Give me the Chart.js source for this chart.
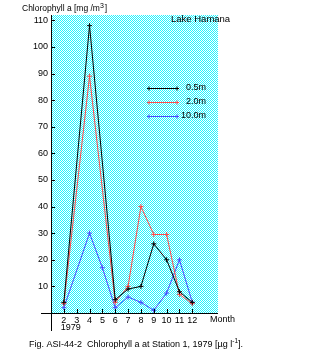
<!DOCTYPE html>
<html>
<head>
<meta charset="utf-8">
<script src="https://cdn.jsdelivr.net/npm/chart.js@4/dist/chart.umd.min.js"></script>
<style>
  html, body { margin: 0; padding: 0; background: #fff; }
  #wrap { width: 322px; height: 356px; position: relative; }
</style>
</head>
<body>
<div id="wrap"><canvas id="chart" width="322" height="356"></canvas></div>
<script>
'use strict';

// ── Data ─────────────────────────────────────────────────────────
const months    = [2, 4, 5, 6, 7, 8, 9, 10, 11, 12];
const depth05   = [4, 108, null, 5, 9, 10, 26, 20, 8, 4];
const depth20   = [3.5, 89, null, 4, 10, 40, 29.5, 29.5, 7, 3.5];
const depth100  = [2, 30, 17, 2, 6, 4, 1, 7.5, 20, 4];
const seriesNames  = ['0.5m', '2.0m', '10.0m'];
const seriesColors = ['#000000', '#ff4a4a', '#4a4aff'];
const monthTicks = [2, 3, 4, 5, 6, 7, 8, 9, 10, 11, 12];
const yTicks     = [10, 20, 30, 40, 50, 60, 70, 80, 90, 100, 110];

const FONT = "'Liberation Sans', Arial, sans-serif";
Chart.defaults.font.family = FONT;
Chart.defaults.font.size = 9;
Chart.defaults.color = '#000';

// dithered cyan background, like the old bitmap
function ditherPattern(ctx) {
    const c = document.createElement('canvas');
    c.width = 2; c.height = 2;
    const g = c.getContext('2d');
    g.fillStyle = '#ffffff'; g.fillRect(0, 0, 2, 2);
    g.fillStyle = '#22f4ff'; g.fillRect(0, 0, 1, 1); g.fillRect(1, 1, 1, 1);
    return ctx.createPattern(c, 'repeat');
}

const pts = vals => months.map((m, i) => ({ x: m, y: vals[i] }));

// ── Extra drawing: background, axes, legend, labels ──────────────
const decor = {
    id: 'decor',
    beforeDatasetsDraw(chart) {
        const { ctx, chartArea: a } = chart;
        ctx.save();
        ctx.fillStyle = ditherPattern(ctx);
        ctx.fillRect(a.left, a.top, a.right - a.left, a.bottom - a.top);
        ctx.restore();
    },
    afterDraw(chart) {
        const { ctx, chartArea: a, scales: { x, y } } = chart;
        ctx.save();
        ctx.strokeStyle = '#000';
        ctx.lineWidth = 1;
        ctx.beginPath();
        // axes, drawn past the corner like the original
        ctx.moveTo(a.left + 0.5, a.top); ctx.lineTo(a.left + 0.5, 331);
        ctx.moveTo(41, a.bottom + 0.5); ctx.lineTo(a.right, a.bottom + 0.5);
        yTicks.forEach(v => {
            const py = Math.round(y.getPixelForValue(v)) + 0.5;
            ctx.moveTo(a.left, py); ctx.lineTo(a.left + 4, py);
        });
        monthTicks.forEach(m => {
            const px = Math.round(x.getPixelForValue(m)) + 0.5;
            ctx.moveTo(px, a.bottom); ctx.lineTo(px, a.bottom - 4);
        });
        ctx.stroke();

        // legend
        const legY = [88, 102, 116];
        seriesNames.forEach((name, i) => {
            const ly = legY[i] + 0.5;
            ctx.strokeStyle = seriesColors[i];
            ctx.beginPath();
            ctx.moveTo(149, ly); ctx.lineTo(177, ly);
            [149, 177].forEach(cx => {
                ctx.moveTo(cx - 2, ly); ctx.lineTo(cx + 2, ly);
                ctx.moveTo(cx, ly - 2); ctx.lineTo(cx, ly + 2);
            });
            ctx.stroke();
            ctx.fillStyle = '#000';
            ctx.font = '9px ' + FONT;
            ctx.textAlign = 'right';
            ctx.textBaseline = 'middle';
            ctx.fillText(name, 206, legY[i]);
        });

        ctx.fillStyle = '#000';
        ctx.textBaseline = 'middle';
        // title inside plot
        ctx.font = '9.5px ' + FONT;
        ctx.textAlign = 'left';
        ctx.fillText('Lake Hamana', 171, 19);

        // y axis title with superscript
        ctx.font = '8.5px ' + FONT;
        let t = 'Chlorophyll a [mg /m';
        ctx.fillText(t, 22, 9);
        let w = ctx.measureText(t).width;
        ctx.font = '7px ' + FONT;
        ctx.fillText('3', 22 + w, 6);
        const w3 = ctx.measureText('3').width;
        ctx.font = '8.5px ' + FONT;
        ctx.fillText(']', 22 + w + w3 + 1, 9);

        // month label + year
        ctx.font = '9px ' + FONT;
        ctx.fillText('Month', 210, 320);
        ctx.textAlign = 'center';
        ctx.fillText('1979', x.getPixelForValue(2) + 7, 328);

        // caption
        ctx.textAlign = 'left';
        ctx.font = '9px ' + FONT;
        t = 'Fig. ASI-44-2  Chlorophyll a at Station 1, 1979 [\u00b5g l';
        ctx.fillText(t, 29, 345);
        w = ctx.measureText(t).width;
        ctx.font = '6.5px ' + FONT;
        ctx.fillText('-1', 29 + w, 341);
        const w1 = ctx.measureText('-1').width;
        ctx.font = '9px ' + FONT;
        ctx.fillText('].', 29 + w + w1, 345);
        ctx.restore();
    }
};

const makeSet = (vals, i) => ({
    label: seriesNames[i],
    data: pts(vals),
    borderColor: seriesColors[i],
    backgroundColor: seriesColors[i],
    borderWidth: 1,
    pointStyle: 'cross',
    pointRadius: 2.5,
    pointBorderWidth: 1,
    tension: 0,
    spanGaps: true,
});

new Chart(document.getElementById('chart'), {
    type: 'line',
    data: { datasets: [makeSet(depth05, 0), makeSet(depth20, 1), makeSet(depth100, 2)] },
    options: {
        responsive: false,
        animation: false,
        layout: { padding: { left: 0, right: 104, top: 15, bottom: 0 } },
        plugins: { legend: { display: false }, tooltip: { enabled: false } },
        scales: {
            x: {
                type: 'linear', min: 1, max: 14,
                grid: { display: false, drawTicks: false },
                border: { display: false },
                afterBuildTicks: s => { s.ticks = monthTicks.map(v => ({ value: v })); },
                afterFit: s => { s.height = 43; },
                ticks: { padding: 2, maxRotation: 0, autoSkip: false, font: { size: 9 } }
            },
            y: {
                min: 0, max: 112,
                grid: { display: false, drawTicks: false },
                border: { display: false },
                afterBuildTicks: s => { s.ticks = yTicks.map(v => ({ value: v })); },
                afterFit: s => { s.width = 51; },
                ticks: { padding: 3, font: { size: 9 } }
            }
        }
    },
    plugins: [decor]
});
</script>
</body>
</html>
